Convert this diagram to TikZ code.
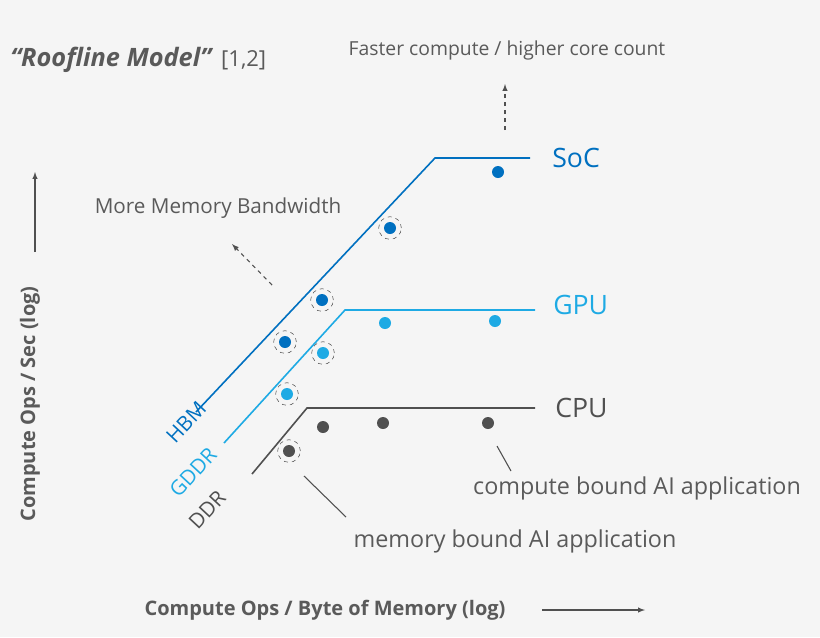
\documentclass[tikz,border=0pt]{standalone}
\usepackage{fontspec}
\setmainfont{Open Sans}
\usepackage{tikz}
\usetikzlibrary{arrows, positioning}
\definecolor{socblue}{RGB}{0,112,192}
\definecolor{gpublue}{RGB}{30,170,228}
\definecolor{cpugray}{RGB}{80,80,80}
\definecolor{txtgray}{RGB}{90,90,90}
\definecolor{bg}{RGB}{245,245,245}
\begin{document}
\begin{tikzpicture}[x=0.75pt, y=-0.75pt,
    lbl/.style={text=txtgray, font=\fontsize{15.5}{18}\selectfont, inner sep=0pt},
    dot/.style={circle, fill, inner sep=0pt, minimum size=9pt},
    ring/.style={circle, draw=cpugray, dashed, inner sep=0pt, minimum size=17pt},
    roof/.style={line width=1.2pt},
    hint/.style={-latex, cpugray, thick}]
    \fill[bg] (0,0) rectangle (820,637);
    \useasboundingbox (0,0) rectangle (820,637);
    % title
    \node[lbl, anchor=west, font=\fontsize{19}{20}\selectfont\bfseries\itshape] (title) at (10,60) {“Roofline Model”};
    \node[lbl, anchor=west, font=\fontsize{16.5}{20}\selectfont] (ref) at ([xshift=7pt]title.east) {[1,2]};
    \node[lbl, font=\fontsize{14.5}{18}\selectfont] (faster) at (507,50) {Faster compute / higher core count};
    \coordinate (fs) at (505,130); \coordinate (fe) at (505,84);
    \draw[hint, dashed] (fs) -- (fe);
    % roofs
    \coordinate (h0) at (196,412); \coordinate (h1) at (435,158); \coordinate (h2) at (530,158);
    \coordinate (g0) at (224,443); \coordinate (g1) at (345,310); \coordinate (g2) at (535,310);
    \coordinate (c0) at (252,474); \coordinate (c1) at (307,408); \coordinate (c2) at (535,408);
    \draw[roof, socblue] (h0) -- (h1) -- (h2);
    \draw[roof, gpublue] (g0) -- (g1) -- (g2);
    \draw[roof, cpugray] (c0) -- (c1) -- (c2);
    \node[lbl, text=socblue, font=\fontsize{20}{22}\selectfont, anchor=west] (soc) at (552,158) {SoC};
    \node[lbl, text=gpublue, font=\fontsize{20}{22}\selectfont, anchor=west] (gpu) at (553,305) {GPU};
    \node[lbl, text=cpugray, font=\fontsize{20}{22}\selectfont, anchor=west] (cpu) at (555,408) {CPU};
    \node[lbl, text=socblue, rotate=47] (hbm) at (186,422) {HBM};
    \node[lbl, text=gpublue, rotate=47] (gddr) at (193,472) {GDDR};
    \node[lbl, text=cpugray, rotate=47] (ddr) at (207,510) {DDR};
    % applications
    \foreach \n/\x/\y in {s1/498/172, s2/390/228, s3/322/300, s4/285/342}
        \node[dot, socblue] (\n) at (\x,\y) {};
    \foreach \n/\x/\y in {g1d/385/323, g2d/495/321, g3d/323/353, g4d/287/394}
        \node[dot, gpublue] (\n) at (\x,\y) {};
    \foreach \n/\x/\y in {c1d/323/427, c2d/383/423, c3d/488/423, c4d/289/451}
        \node[dot, cpugray] (\n) at (\x,\y) {};
    \foreach \n in {s2, s3, s4, g3d, g4d, c4d}
        \node[ring] at (\n) {};
    \node[lbl] (morebw) at (218,208) {More Memory Bandwidth};
    \coordinate (ms) at (272,285); \coordinate (me) at (232,244);
    \draw[hint, dashed] (ms) -- (me);
    \node[lbl, font=\fontsize{17.5}{20}\selectfont] (cbound) at (637,488) {compute bound AI application};
    \node[lbl, font=\fontsize{17.5}{20}\selectfont] (mbound) at (515,541) {memory bound AI application};
    \coordinate (cb) at (511,471); \coordinate (cb2) at (497,446);
    \coordinate (mb) at (346,517); \coordinate (mb2) at (304,476);
    \draw[cpugray, thick] (cb) -- (cb2);
    \draw[cpugray, thick] (mb) -- (mb2);
    % axes
    \node[lbl, rotate=90, font=\fontsize{15}{18}\selectfont\bfseries] (ylab) at (30,404) {Compute Ops / Sec (log)};
    \coordinate (ya) at (35,252); \coordinate (yb) at (35,172);
    \draw[hint] (ya) -- (yb);
    \node[lbl, font=\fontsize{15}{18}\selectfont\bfseries] (xlab) at (325,610) {Compute Ops / Byte of Memory (log)};
    \coordinate (xa) at (542,610); \coordinate (xb) at (645,610);
    \draw[hint] (xa) -- (xb);
\end{tikzpicture}
\end{document}
